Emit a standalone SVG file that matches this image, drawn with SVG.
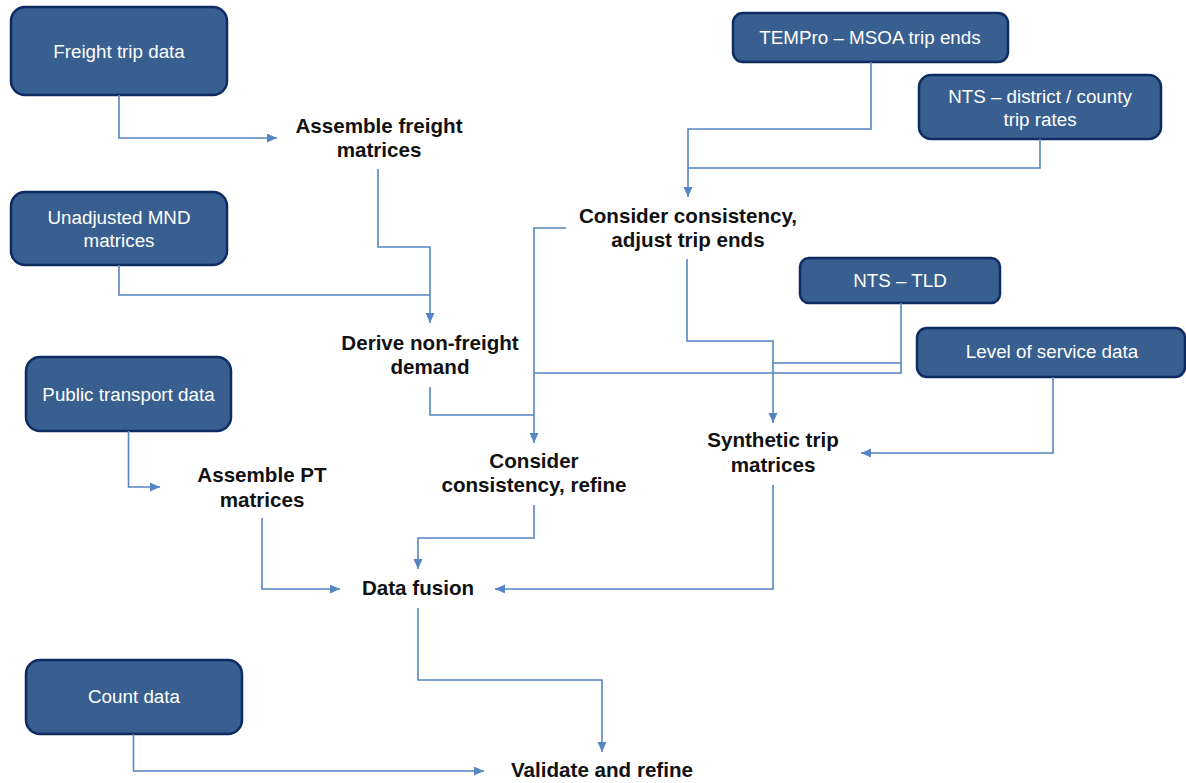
<svg xmlns="http://www.w3.org/2000/svg" width="1186" height="783" viewBox="0 0 1186 783">
  <style>
    .box { fill: #385f8f; stroke: #0e2b62; stroke-width: 2.5; }
    .boxtxt { font-family: "Liberation Sans", Arial, sans-serif; font-size: 18.8px; fill: #ffffff; text-anchor: middle; }
    .step { font-family: "Liberation Sans", Arial, sans-serif; font-size: 20.6px; font-weight: bold; fill: #111111; text-anchor: middle; }
    .link { fill: none; stroke: #5585c2; stroke-width: 1.6; }
    .arrow { marker-end: url(#head); }
  </style>
  <defs>
    <marker id="head" markerUnits="userSpaceOnUse" markerWidth="11" markerHeight="10" refX="10" refY="4.5" orient="auto">
      <path d="M0,0 L10,4.5 L0,9 Z" fill="#5585c2"/>
    </marker>
  </defs>

  <rect width="1186" height="783" fill="#ffffff"/>

  <!-- data sources -->
  <g id="freight-trip-data">
    <rect class="box" x="11" y="7" width="216" height="88" rx="14"/>
    <text class="boxtxt" x="119" y="58">Freight trip data</text>
  </g>
  <g id="unadjusted-mnd">
    <rect class="box" x="11" y="192" width="216" height="73" rx="14"/>
    <text class="boxtxt" x="119" y="224">Unadjusted MND</text>
    <text class="boxtxt" x="119" y="247">matrices</text>
  </g>
  <g id="tempro">
    <rect class="box" x="733" y="13" width="275" height="49" rx="10"/>
    <text class="boxtxt" x="870" y="44">TEMPro – MSOA trip ends</text>
  </g>
  <g id="nts-trip-rates">
    <rect class="box" x="919" y="75" width="242" height="64" rx="12"/>
    <text class="boxtxt" x="1040" y="103">NTS – district / county</text>
    <text class="boxtxt" x="1040" y="126">trip rates</text>
  </g>
  <g id="nts-tld">
    <rect class="box" x="800" y="258" width="200" height="45" rx="9"/>
    <text class="boxtxt" x="900" y="287">NTS – TLD</text>
  </g>
  <g id="level-of-service">
    <rect class="box" x="917" y="328" width="268" height="49" rx="10"/>
    <text class="boxtxt" x="1052" y="358">Level of service data</text>
  </g>
  <g id="public-transport-data">
    <rect class="box" x="26" y="357" width="205" height="74" rx="14"/>
    <text class="boxtxt" x="128.5" y="401">Public transport data</text>
  </g>
  <g id="count-data">
    <rect class="box" x="26" y="660" width="216" height="74" rx="14"/>
    <text class="boxtxt" x="134" y="703">Count data</text>
  </g>

  <!-- process steps -->
  <g id="assemble-freight">
    <text class="step" x="379" y="133">Assemble freight</text>
    <text class="step" x="379" y="157">matrices</text>
  </g>
  <g id="adjust-trip-ends">
    <text class="step" x="688" y="223">Consider consistency,</text>
    <text class="step" x="688" y="247">adjust trip ends</text>
  </g>
  <g id="derive-non-freight">
    <text class="step" x="430" y="350">Derive non-freight</text>
    <text class="step" x="430" y="374">demand</text>
  </g>
  <g id="consider-refine">
    <text class="step" x="534" y="468">Consider</text>
    <text class="step" x="534" y="492">consistency, refine</text>
  </g>
  <g id="synthetic-trip-matrices">
    <text class="step" x="773" y="447">Synthetic trip</text>
    <text class="step" x="773" y="472">matrices</text>
  </g>
  <g id="assemble-pt">
    <text class="step" x="262" y="482">Assemble PT</text>
    <text class="step" x="262" y="507">matrices</text>
  </g>
  <g id="data-fusion">
    <text class="step" x="418" y="595">Data fusion</text>
  </g>
  <g id="validate-refine">
    <text class="step" x="602" y="777">Validate and refine</text>
  </g>

  <!-- connectors -->
  <g id="connectors">
    <path class="link arrow" d="M119,95 V138 H277"/>
    <path class="link arrow" d="M378,169 V247 H430 V323"/>
    <path class="link" d="M119,265 V295 H430"/>
    <path class="link arrow" d="M871,62 V129 H688 V197"/>
    <path class="link" d="M1040,139 V168 H688"/>
    <path class="link arrow" d="M566,228 H534 V443"/>
    <path class="link arrow" d="M687,259 V341 H773 V423"/>
    <path class="link" d="M901,303 V373 H534"/>
    <path class="link" d="M901,363 H773"/>
    <path class="link arrow" d="M1053,377 V453 H861"/>
    <path class="link" d="M430,387 V415 H534"/>
    <path class="link arrow" d="M128.5,431 V487 H160"/>
    <path class="link arrow" d="M262,518 V589 H340"/>
    <path class="link arrow" d="M534,505 V538 H418 V569"/>
    <path class="link arrow" d="M773,485 V589 H495"/>
    <path class="link arrow" d="M418,608 V680 H602 V752"/>
    <path class="link arrow" d="M133.5,734 V771 H484"/>
  </g>
</svg>
